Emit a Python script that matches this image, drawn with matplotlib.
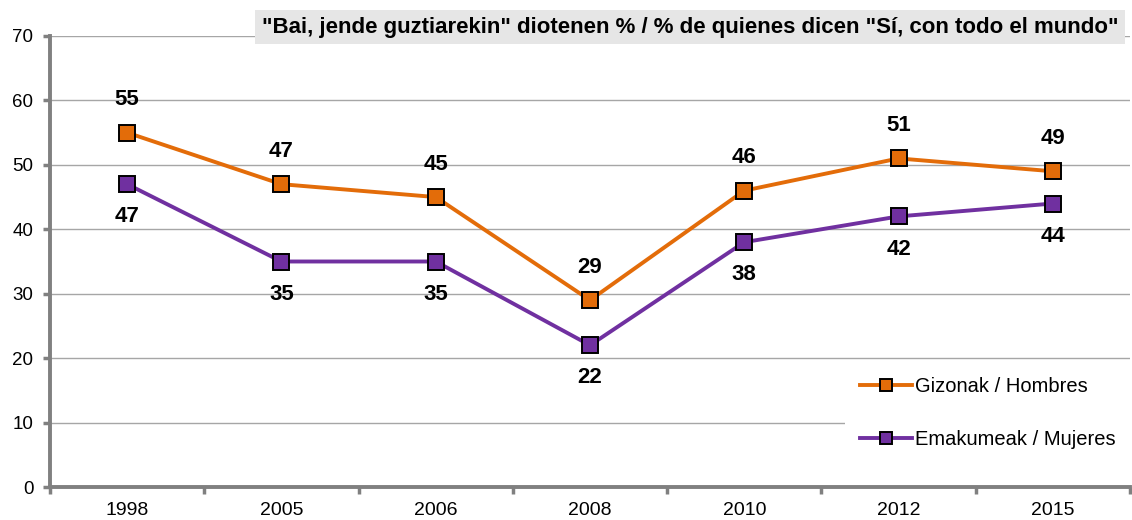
import numpy as np
import matplotlib.pyplot as plt

years = ['1998', '2005', '2006', '2008', '2010', '2012', '2015']
hombres = [55, 47, 45, 29, 46, 51, 49]
mujeres = [47, 35, 35, 22, 38, 42, 44]

orange = '#E36C09'
purple = '#7030A0'

plt.rcParams['font.family'] = ['Liberation Sans', 'DejaVu Sans']

fig = plt.figure(figsize=(11.32, 5.2), dpi=100)
ax = fig.add_axes([50 / 1132, 33 / 520, 1080 / 1132, 451 / 520])

x = np.arange(len(years))
ax.plot(x, hombres, color=orange, lw=2.8, marker='s', ms=11.5,
        mfc=orange, mec='black', mew=1.4, label='Gizonak / Hombres', zorder=3)
ax.plot(x, mujeres, color=purple, lw=2.8, marker='s', ms=11.5,
        mfc=purple, mec='black', mew=1.4, label='Emakumeak / Mujeres', zorder=3)

for xi, v in zip(x, hombres):
    ax.annotate(str(v), (xi, v), xytext=(0, 16), textcoords='offset points',
                ha='center', va='bottom', fontsize=16, fontweight='bold')
for xi, v in zip(x, mujeres):
    ax.annotate(str(v), (xi, v), xytext=(0, -16), textcoords='offset points',
                ha='center', va='top', fontsize=16, fontweight='bold')

ax.set_xlim(-0.5, len(years) - 0.5)
ax.set_ylim(0, 70)
ax.set_yticks(range(0, 71, 10))
ax.set_xticks(x)
ax.set_xticklabels(years)
ax.set_xticks(np.arange(-0.5, len(years)), minor=True)
ax.tick_params(axis='x', which='major', length=0, labelsize=14, pad=11)
ax.tick_params(axis='x', which='minor', length=5, width=2.5, color='#808080')
ax.tick_params(axis='y', length=5, width=2.5, color='#808080', labelsize=13.5, pad=7)

ax.grid(axis='y', color='#a6a6a6', lw=1)
ax.set_axisbelow(True)
for s in ['top', 'right']:
    ax.spines[s].set_visible(False)
for s in ['left', 'bottom']:
    ax.spines[s].set_color('#808080')
    ax.spines[s].set_linewidth(2.8)

leg = ax.legend(loc='upper left', bbox_to_anchor=(845 / 1132, 1 - 362 / 520),
                bbox_transform=fig.transFigure, borderaxespad=0,
                frameon=True, facecolor='white', edgecolor='none', framealpha=1,
                fontsize=14.5, handlelength=2.6, labelspacing=1.68,
                handletextpad=0.15, borderpad=0.75, markerscale=0.7)

fig.text(1118 / 1132, 1 - 27 / 520,
         '"Bai, jende guztiarekin" diotenen % / % de quienes dicen "Sí, con todo el mundo"',
         ha='right', va='center', fontsize=16, fontweight='bold',
         bbox=dict(boxstyle='square,pad=0.3', fc='#e6e6e6', ec='none'))

fig.savefig('out.png', dpi=100)
